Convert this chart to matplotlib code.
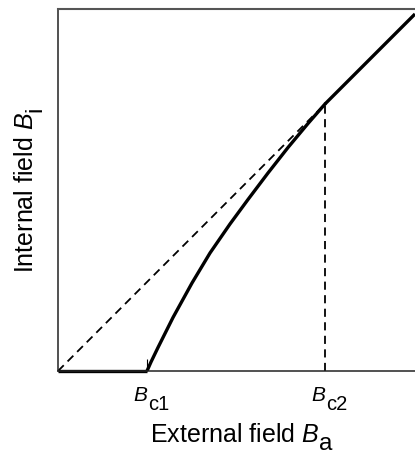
import matplotlib
matplotlib.use("Agg")
import matplotlib.pyplot as plt
from matplotlib.transforms import offset_copy, blended_transform_factory

plt.rcParams['font.family'] = ['Liberation Sans', 'DejaVu Sans']
plt.rcParams['mathtext.fontset'] = 'custom'
plt.rcParams['mathtext.rm'] = 'Liberation Sans'
plt.rcParams['mathtext.it'] = 'Liberation Sans:italic'

# Data (arbitrary units)
x_max = 357
y_max = 362
Bc1 = 89
Bc2 = 267
meissner_x = [0, Bc1]
meissner_y = [0, 0]
mixed_x = [89, 93, 100, 115, 134, 152, 172, 190, 210, 230, 250, 267]
mixed_y = [0, 9, 23.5, 53.5, 88, 118, 147, 171.5, 198, 223.5, 247.5, 267]
normal_x = [Bc2, x_max]
normal_y = [Bc2, x_max]
ref_x = [0, Bc2]
ref_y = [0, Bc2]
tick_pos = [Bc1, Bc2]
tick_subs = ['c1', 'c2']

W, H = 415, 454
fig = plt.figure(figsize=(W/100, H/100), dpi=100)
ax = fig.add_axes([58/W, (H-371)/H, (W-58)/W, (371-9)/H])
ax.set_xlim(0, x_max)
ax.set_ylim(0, y_max)

ax.plot(ref_x, ref_y, color='black', lw=1.3, dashes=(4.5, 3), clip_on=False)
ax.plot([Bc2, Bc2], [0, Bc2], color='black', lw=1.3, dashes=(4.5, 3))
ax.plot(meissner_x, meissner_y, color='black', lw=2.4, solid_capstyle='butt', clip_on=False)
ax.plot(mixed_x, mixed_y, color='black', lw=2.4, solid_capstyle='round', solid_joinstyle='round')
ax.plot(normal_x, normal_y, color='black', lw=2.4, solid_capstyle='butt', clip_on=False)

ax.spines['right'].set_visible(False)
for s in ['left', 'bottom']:
    ax.spines[s].set_linewidth(1.1)
    ax.spines[s].set_color('#222222')
ax.spines['top'].set_color('#555555')
ax.spines['top'].set_linewidth(1.5)

ax.set_xticks([Bc1])
ax.set_xticklabels([''])
ax.tick_params(axis='x', direction='in', length=8.5, width=0.8)
ax.set_yticks([])

fig.canvas.draw()
r = fig.canvas.get_renderer()
px = 72/100.0  # points per pixel

# tick labels composed: italic B + subscript of nearly equal size
trans = blended_transform_factory(ax.transData, ax.transAxes)
for pos, sub in zip(tick_pos, tick_subs):
    tB = ax.text(pos, 0, r'$B$', fontsize=15, ha='right', va='baseline',
                 transform=offset_copy(trans, fig=fig, x=1.0*px, y=-29.7*px, units='points'))
    bb = tB.get_window_extent(r)
    fig.text((bb.x1 + 0.2)/W, (H-410)/H, sub, fontsize=14.5, ha='left', va='baseline')

# x label
tx = fig.text(150/W, (H-441.7)/H, r'External field $B$', fontsize=18, ha='left', va='baseline')
bb = tx.get_window_extent(r)
fig.text((bb.x1 + 0.2)/W, (H-450)/H, 'a', fontsize=17.5, ha='left', va='baseline')

# y label (rotated)
ty = fig.text(33/W, (H-273)/H, r'Internal field $B$', fontsize=18, ha='left', va='baseline',
              rotation=90, rotation_mode='anchor')
bb = ty.get_window_extent(r)
fig.text(41/W, (bb.y1 + 0.2)/H, 'i', fontsize=17.5, ha='left', va='baseline',
         rotation=90, rotation_mode='anchor')

fig.savefig('out.png', dpi=100)
